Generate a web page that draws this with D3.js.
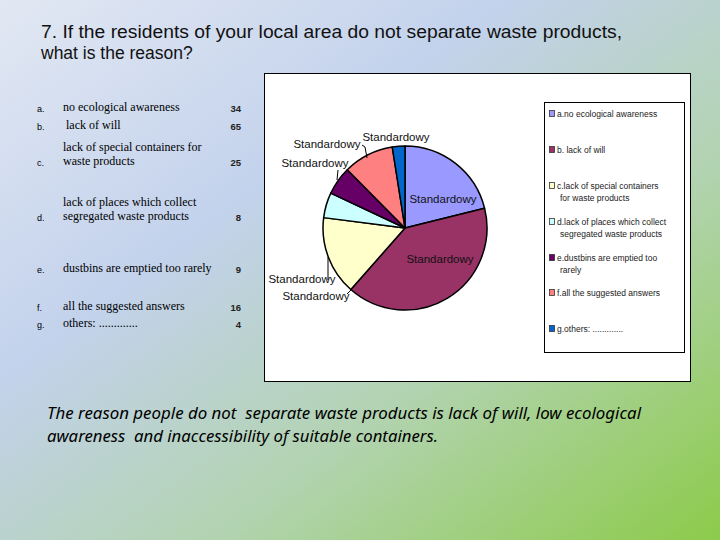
<!DOCTYPE html>
<html>
<head>
<meta charset="utf-8">
<script src="https://cdn.jsdelivr.net/npm/d3@7"></script>
<style>
  body { margin: 0; padding: 0; }
  svg { display: block; }
</style>
</head>
<body>
<script>
// answers to question 7
var letters = ["a.", "b.", "c.", "d.", "e.", "f.", "g."];
var answers = [
  ["no ecological awareness"],
  [" lack of will"],
  ["lack of special containers for", "waste products"],
  ["lack of places which collect", "segregated waste products"],
  ["dustbins are emptied too rarely"],
  ["all the suggested answers"],
  ["others: ............."]
];
var counts = [34, 65, 25, 8, 9, 16, 4];
var legendLabels = [
  ["a.no ecological awareness"],
  ["b. lack of will"],
  ["c.lack of special containers", "for waste products"],
  ["d.lack of places which collect", "segregated waste products"],
  ["e.dustbins are emptied too", "rarely"],
  ["f.all the suggested answers"],
  ["g.others: ............."]
];
var colors = ["#9999ff", "#993366", "#ffffcc", "#ccffff", "#660066", "#ff8080", "#0066cc"];
var sliceLabel = "Standardowy";

var width = 720, height = 540;

var svg = d3.select("body").append("svg").attr("width", width).attr("height", height);

// slide background
var grad = svg.append("defs").append("linearGradient").attr("id", "bg")
  .attr("x1", "0%").attr("y1", "0%").attr("x2", "100%").attr("y2", "100%");
grad.append("stop").attr("offset", "0%").attr("stop-color", "#e2e8f3");
grad.append("stop").attr("offset", "35%").attr("stop-color", "#c3d2ec");
grad.append("stop").attr("offset", "65%").attr("stop-color", "#b2d3b0");
grad.append("stop").attr("offset", "100%").attr("stop-color", "#8ccb4a");
svg.append("rect").attr("width", width).attr("height", height).attr("fill", "url(#bg)");

// title
var title = svg.append("text").attr("font-family", "Liberation Sans, Arial, sans-serif")
  .attr("font-size", 17.5).attr("fill", "#111");
title.append("tspan").attr("x", 41).attr("y", 38).attr("textLength", 581)
  .attr("lengthAdjust", "spacingAndGlyphs")
  .text("7. If the residents of your local area do not separate waste products,");
title.append("tspan").attr("x", 41).attr("y", 59).text("what is the reason?");

// table on the left
var rowY = d3.scaleOrdinal().domain(letters).range([112, 130, 166, 221, 273, 311, 328]);
var table = svg.append("g");
letters.forEach(function(l, i) {
  var y = rowY(l);
  table.append("text").attr("x", 37).attr("y", y)
    .attr("font-family", "Liberation Sans, Arial, sans-serif").attr("font-size", 9).text(l);
  var lines = answers[i];
  lines.forEach(function(t, j) {
    table.append("text").attr("x", 63).attr("y", y - (lines.length - 1 - j) * 14 - 1)
      .attr("font-family", "Liberation Serif, Times New Roman, serif").attr("font-size", 12)
      .attr("xml:space", "preserve").text(t);
  });
  table.append("text").attr("x", 241).attr("y", y).attr("text-anchor", "end")
    .attr("font-family", "Liberation Sans, Arial, sans-serif").attr("font-size", 9.5)
    .attr("font-weight", "bold").attr("fill", "#222").text(counts[i]);
});

// chart area
svg.append("rect").attr("x", 264.5).attr("y", 73.5).attr("width", 426).attr("height", 308)
  .attr("fill", "#fff").attr("stroke", "#000").attr("stroke-width", 1);

var cx = 405, cy = 228, r = 82;
var pie = d3.pie().sort(null).value(function(d) { return d; });
var arc = d3.arc().innerRadius(0).outerRadius(r);
var arcs = pie(counts);

var pieG = svg.append("g").attr("transform", "translate(" + cx + "," + cy + ")");
pieG.selectAll("path").data(arcs).enter().append("path")
  .attr("d", arc)
  .attr("fill", function(d, i) { return colors[i]; })
  .attr("stroke", "#000").attr("stroke-width", 1.5).attr("stroke-linejoin", "round");

// where the data labels sit, relative to the pie centre
var labelPos = [
  {x: 38, y: -25},
  {x: 35, y: 35},
  {x: -103, y: 55, lead: [[-77, 29], [-77, 52]]},
  {x: -89, y: 72, lead: [[-54, 62], [-58, 66]]},
  {x: -90, y: -61, lead: [[-67, -58], [-68, -48]]},
  {x: -78, y: -80, lead: [[-43, -83], [-40, -81], [-38, -70]]},
  {x: -9, y: -87}
];
arcs.forEach(function(d, i) {
  var p = labelPos[i];
  if (p.lead) {
    pieG.append("path").attr("d", d3.line()(p.lead))
      .attr("fill", "none").attr("stroke", "#000").attr("stroke-width", 1);
  }
  pieG.append("text").attr("x", p.x).attr("y", p.y).attr("text-anchor", "middle")
    .attr("font-family", "Liberation Sans, Arial, sans-serif").attr("font-size", 11.5)
    .attr("fill", "#111").text(sliceLabel);
});

// legend
svg.append("rect").attr("x", 544.5).attr("y", 102.5).attr("width", 140).attr("height", 250)
  .attr("fill", "#fff").attr("stroke", "#000").attr("stroke-width", 1);
var legY = d3.scaleOrdinal().domain(letters).range([117, 153, 189, 225, 261, 296, 332]);
var legend = svg.append("g");
letters.forEach(function(l, i) {
  var y = legY(l);
  legend.append("rect").attr("x", 549.5).attr("y", y - 6.5).attr("width", 5).attr("height", 6)
    .attr("fill", colors[i]).attr("stroke", "#333").attr("stroke-width", 0.8);
  legendLabels[i].forEach(function(t, j) {
    legend.append("text").attr("x", j === 0 ? 557 : 560).attr("y", y + j * 12)
      .attr("font-family", "Liberation Sans, Arial, sans-serif").attr("font-size", 8.5)
      .attr("fill", "#222").text(t);
  });
});

// conclusion
var note = svg.append("text").attr("font-family", "Noto Sans, Open Sans, sans-serif")
  .attr("font-style", "italic").attr("font-size", 17).attr("fill", "#000")
  .attr("xml:space", "preserve");
note.append("tspan").attr("x", 47).attr("y", 419).attr("textLength", 594)
  .attr("lengthAdjust", "spacingAndGlyphs")
  .text("The reason people do not  separate waste products is lack of will, low ecological");
note.append("tspan").attr("x", 47).attr("y", 442).attr("textLength", 391)
  .attr("lengthAdjust", "spacingAndGlyphs")
  .text("awareness  and inaccessibility of suitable containers.");
</script>
</body>
</html>
